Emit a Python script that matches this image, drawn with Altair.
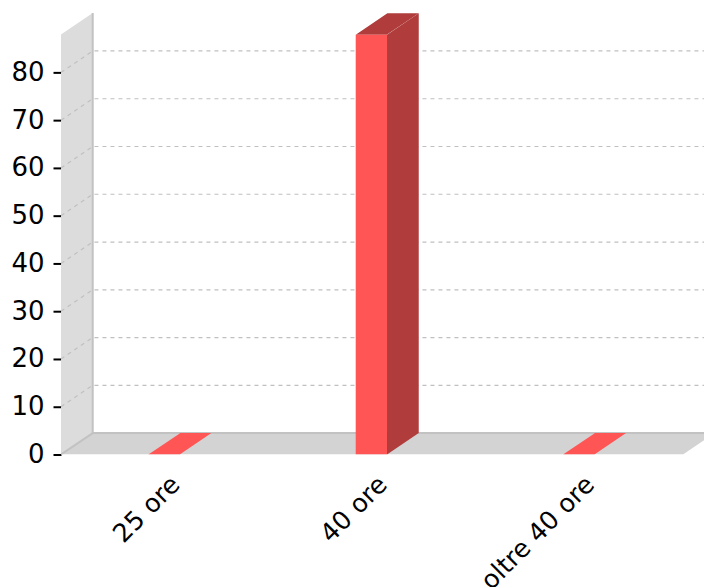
import altair as alt
import pandas as pd

categories = ["25 ore", "40 ore", "oltre 40 ore"]
values = [0, 87.9, 0]
y_ticks = [0, 10, 20, 30, 40, 50, 60, 70, 80]

BAR_W = 0.151
DEPTH_X = 0.153
DEPTH_Y = 4.48
Y_MAX = 87.95
N = len(categories)
X_DOMAIN = [0, 3.1014]
Y_DOMAIN = [0, Y_MAX + DEPTH_Y]
RED, DARK, WALL, FLOOR, EDGE, GRID = "#ff5555", "#b03c3c", "#dcdcdc", "#d3d3d3", "#c2c2c2", "#c0c0c0"
FONT = "DejaVu Sans"

x_enc = alt.X("x:Q", scale=alt.Scale(domain=X_DOMAIN, nice=False, zero=False), title=None,
              axis=alt.Axis(values=[i + 0.5 for i in range(N)],
                            labelExpr="{0.5:'25 ore',1.5:'40 ore',2.5:'oltre 40 ore'}[datum.value]",
                            labelAngle=-45, labelFontSize=25.5, labelFont=FONT, labelColor="black",
                            labelOverlap=False, labelBound=False, labelFlush=False, labelPadding=17,
                            labelOffset=2, labelLimit=400,
                            tickSize=0, domain=False, grid=False))
y_enc = alt.Y("y:Q", scale=alt.Scale(domain=Y_DOMAIN, nice=False, zero=False), title=None,
              axis=alt.Axis(values=y_ticks, tickSize=8, tickWidth=2, tickColor="black",
                            tickRound=False, labelFontSize=26, labelFont=FONT, labelColor="black",
                            labelPadding=9, labelOverlap=False, labelBound=False, labelFlush=False,
                            domain=False, grid=False))
y2_enc = alt.Y2("y2:Q")


def slanted(x0, x1, v):
    """Horizontal face at value v, running from the front plane to the back plane."""
    xs = sorted({round(x0, 4), round(x0 + DEPTH_X, 4), round(x1, 4), round(x1 + DEPTH_X, 4)})
    rows = []
    for x in xs:
        low = v + DEPTH_Y * max(0, min(1, (x - x1) / DEPTH_X))
        high = v + DEPTH_Y * max(0, min(1, (x - x0) / DEPTH_X))
        rows.append({"x": x, "y": high, "y2": low})
    return rows


def area(rows, color, **kw):
    return alt.Chart(pd.DataFrame(rows)).mark_area(color=color, clip=True, orient="vertical", **kw).encode(
        x=x_enc, y=y_enc, y2=y2_enc)


def line(rows, color, **kw):
    df = pd.DataFrame(rows)
    return alt.Chart(df).mark_line(color=color, clip=True, **kw).encode(
        x=x_enc, y=y_enc, detail="g:N", order="i:Q")


left_wall = area([{"x": 0, "y": Y_MAX, "y2": 0},
                  {"x": DEPTH_X, "y": Y_MAX + DEPTH_Y, "y2": DEPTH_Y}], WALL)
floor = area(slanted(0, N, 0), FLOOR)

grid_rows = []
for t in y_ticks[1:]:
    for i, (x, y) in enumerate([(0, t), (DEPTH_X, t + DEPTH_Y), (X_DOMAIN[1], t + DEPTH_Y)]):
        grid_rows.append({"g": t, "i": i, "x": x, "y": y})
grid = line(grid_rows, GRID, strokeWidth=1.2, strokeDash=[4, 4])

edges = line([
    {"g": "back", "i": 0, "x": DEPTH_X, "y": Y_MAX + DEPTH_Y},
    {"g": "back", "i": 1, "x": DEPTH_X, "y": DEPTH_Y},
    {"g": "back", "i": 2, "x": X_DOMAIN[1], "y": DEPTH_Y},
    {"g": "corner", "i": 0, "x": 0, "y": 0},
    {"g": "corner", "i": 1, "x": DEPTH_X, "y": DEPTH_Y},
], EDGE, strokeWidth=2)

layers = [left_wall, floor, grid, edges]
for i, v in enumerate(values):
    x0 = i + 0.497 - BAR_W / 2
    x1 = x0 + BAR_W
    if v > 0:
        layers.append(area([{"x": x1, "y": v, "y2": 0},
                            {"x": x1 + DEPTH_X, "y": v + DEPTH_Y, "y2": DEPTH_Y}], DARK))
        layers.append(area(slanted(x0, x1, v), DARK))
        layers.append(area([{"x": x0, "y": v, "y2": 0}, {"x": x1, "y": v, "y2": 0}], RED))
    else:
        layers.append(area(slanted(x0, x1, v), RED))

chart = alt.layer(*layers).properties(
    width=643, height=441.5,
    autosize=alt.AutoSizeParams(type="none"),
    padding={"left": 53, "top": 5, "right": 0, "bottom": 132.5},
).configure_view(stroke=None)

chart.save("out.html", embed_options={"renderer": "svg", "actions": False})
